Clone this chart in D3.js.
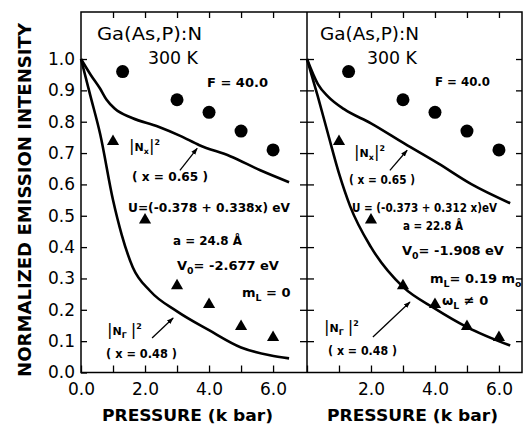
<!DOCTYPE html>
<html>
<head>
<meta charset="utf-8">
<script src="https://cdn.jsdelivr.net/npm/d3@7"></script>
<style>
  body { margin: 0; background: #fff; }
  text { font-family: "DejaVu Sans", sans-serif; fill: #000; }
</style>
</head>
<body>
<script>
// measured points (same in both panels)
const pressureF = [1.3, 3.0, 4.0, 5.0, 6.0];
const intensityF = [0.96, 0.87, 0.83, 0.77, 0.71];
const pressureTri = [1.0, 2.0, 3.0, 4.0, 5.0, 6.0];
const intensityTri = [0.74, 0.49, 0.28, 0.22, 0.15, 0.115];

// calculated curves, left panel (mL = 0)
const leftNxP = [0, 0.3, 0.6, 0.8, 1.05, 1.6, 2.4, 3.1, 3.7, 4.66, 5.6, 6.5];
const leftNxI = [1.0, 0.95, 0.905, 0.87, 0.842, 0.812, 0.785, 0.755, 0.725, 0.69, 0.645, 0.607];
const leftNgP = [0, 0.3, 0.6, 1.0, 1.27, 1.62, 2.16, 3.0, 4.0, 5.0, 5.9, 6.5];
const leftNgI = [1.0, 0.88, 0.76, 0.55, 0.44, 0.335, 0.26, 0.195, 0.135, 0.08, 0.055, 0.045];

// calculated curves, right panel (mL = 0.19 m0)
const rightNxP = [0, 0.34, 0.66, 1.16, 2.0, 3.05, 4.1, 5.15, 6.35];
const rightNxI = [1.0, 0.92, 0.88, 0.84, 0.795, 0.73, 0.667, 0.6, 0.54];
const rightNgP = [0, 0.34, 0.66, 1.0, 1.35, 2.0, 3.0, 4.0, 5.0, 6.35];
const rightNgI = [1.0, 0.88, 0.76, 0.635, 0.53, 0.4, 0.273, 0.204, 0.145, 0.086];

// ticks
const xTicks = [0, 1, 2, 3, 4, 5, 6];
const xLabelsLeft = [0, 2, 4, 6];
const xLabelsRight = [2, 4, 6];
const yTicks = [0, 0.1, 0.2, 0.3, 0.4, 0.5, 0.6, 0.7, 0.8, 0.9, 1.0];

// arrows [tailP, tailI, headP, headI]
const arrowsLeft = [[3.09, 0.645, 3.63, 0.715], [2.22, 0.11, 2.88, 0.174]];
const arrowsRight = [[2.59, 0.645, 3.13, 0.709], [2.06, 0.113, 3.22, 0.225]];

var W = 523, H = 426;
var top_ = 12, bottom = 372.5, left = 81, mid = 307, right = 522;

var svg = d3.select("body").append("svg")
  .attr("width", W).attr("height", H);

var y = d3.scaleLinear().domain([0, 1.15]).range([bottom, top_]);
var xL = d3.scaleLinear().domain([0, 7.06]).range([left, mid]);
var xR = d3.scaleLinear().domain([0, 6.72]).range([mid, right]);

svg.append("defs").append("marker")
  .attr("id", "ah").attr("viewBox", "0 0 10 10")
  .attr("refX", 9).attr("refY", 5)
  .attr("markerWidth", 7).attr("markerHeight", 7)
  .attr("markerUnits", "userSpaceOnUse")
  .attr("orient", "auto")
  .append("path").attr("d", "M0,1.5 L10,5 L0,8.5 z").attr("fill", "#000");

function axisStyle(g) {
  g.select(".domain").remove();
  g.selectAll(".tick line").attr("stroke", "#000").attr("stroke-width", 1.3);
  g.selectAll(".tick text").attr("font-family", "DejaVu Sans").attr("font-size", 17).attr("fill", "#000");
}

function panel(x, labels, curves, arrows) {
  // ticks
  svg.append("g").attr("transform", "translate(0," + bottom + ")")
    .call(d3.axisBottom(x).tickValues(xTicks).tickSizeInner(-7).tickSizeOuter(0).tickPadding(10)
      .tickFormat(d => labels.indexOf(d) >= 0 ? d.toFixed(1) : ""))
    .call(axisStyle);
  svg.append("g").attr("transform", "translate(0," + top_ + ")")
    .call(d3.axisTop(x).tickValues(xTicks.slice(1)).tickSizeInner(-6).tickSizeOuter(0).tickFormat(""))
    .call(axisStyle);

  var line = d3.line()
    .x(d => x(d[0])).y(d => y(d[1]))
    .curve(d3.curveMonotoneX);

  curves.forEach(function(c) {
    svg.append("path")
      .datum(d3.zip(c[0], c[1]))
      .attr("fill", "none").attr("stroke", "#000").attr("stroke-width", 2.6)
      .attr("d", line);
  });

  svg.selectAll(null).data(d3.zip(pressureF, intensityF)).enter()
    .append("circle")
    .attr("cx", d => x(d[0])).attr("cy", d => y(d[1])).attr("r", 6.5)
    .attr("fill", "#000");

  svg.selectAll(null).data(d3.zip(pressureTri, intensityTri)).enter()
    .append("path")
    .attr("d", d3.symbol().type(d3.symbolTriangle).size(64))
    .attr("transform", d => "translate(" + x(d[0]) + "," + (y(d[1]) + 1) + ")")
    .attr("fill", "#000");

  arrows.forEach(function(a) {
    svg.append("line")
      .attr("x1", x(a[0])).attr("y1", y(a[1]))
      .attr("x2", x(a[2])).attr("y2", y(a[3]))
      .attr("stroke", "#000").attr("stroke-width", 1.3)
      .attr("marker-end", "url(#ah)");
  });
}

panel(xL, xLabelsLeft, [[leftNxP, leftNxI], [leftNgP, leftNgI]], arrowsLeft);
panel(xR, xLabelsRight, [[rightNxP, rightNxI], [rightNgP, rightNgI]], arrowsRight);

// y ticks: labelled on the left, crossing at the divider, inward on the right
svg.append("g").attr("transform", "translate(" + left + ",0)")
  .call(d3.axisLeft(y).tickValues(yTicks).tickSizeInner(-6).tickSizeOuter(0).tickPadding(6)
    .tickFormat(d3.format(".1f")))
  .call(axisStyle);
svg.append("g").attr("transform", "translate(" + mid + ",0)")
  .call(d3.axisLeft(y).tickValues(yTicks.slice(1)).tickSizeInner(7).tickSizeOuter(0).tickFormat(""))
  .call(axisStyle);
svg.append("g").attr("transform", "translate(" + mid + ",0)")
  .call(d3.axisRight(y).tickValues(yTicks.slice(1)).tickSizeInner(7).tickSizeOuter(0).tickFormat(""))
  .call(axisStyle);
svg.append("g").attr("transform", "translate(" + right + ",0)")
  .call(d3.axisLeft(y).tickValues(yTicks.slice(1)).tickSizeInner(6).tickSizeOuter(0).tickFormat(""))
  .call(axisStyle);

// frames
svg.append("rect").attr("x", left).attr("y", top_).attr("width", right - left).attr("height", bottom - top_)
  .attr("fill", "none").attr("stroke", "#000").attr("stroke-width", 1.5);
svg.append("line").attr("x1", mid).attr("x2", mid).attr("y1", top_).attr("y2", bottom)
  .attr("stroke", "#000").attr("stroke-width", 1.5);

// text helpers
function txt(x0, y0, s, size, weight, len) {
  var t = svg.append("text").attr("x", x0).attr("y", y0)
    .attr("font-size", size).attr("font-weight", weight || "normal").text(s);
  if (len) t.attr("textLength", len).attr("lengthAdjust", "spacingAndGlyphs");
  return t;
}
// parts: strings or {t, sub|sup|big}
function rich(x0, y0, parts, size) {
  var t = svg.append("text").attr("x", x0).attr("y", y0)
    .attr("font-size", size).attr("font-weight", "bold");
  var off = 0;
  parts.forEach(function(p) {
    var s = typeof p === "string" ? {t: p} : p;
    var target = s.sub ? size * 0.3 : s.sup ? -size * 0.55 : 0;
    var fs = s.sub || s.sup ? size * 0.72 : s.big ? size * 1.5 : size;
    t.append("tspan").attr("dy", target - off).attr("font-size", fs)
      .attr("font-weight", s.big ? "normal" : "bold").text(s.t);
    off = target;
  });
  return t;
}

// left panel labels
txt(97, 40, "Ga(As,P):N", 17, "normal", 105);
txt(148, 64, "300 K", 17, "normal", 50);
txt(207, 87, "F = 40.0", 13, "bold", 61);
rich(129, 151, [{t: "|", big: 1}, "N", {t: "x", sub: 1}, {t: "|", big: 1}, {t: "2", sup: 1}], 11);
txt(132, 181, "( x = 0.65 )", 12, "bold", 76);
txt(128, 212, "U=(-0.378 + 0.338x) eV", 12, "bold", 162);
txt(173, 245, "a = 24.8 Å", 13, "bold", 69);
rich(177, 270, ["V", {t: "0", sub: 1}, "= -2.677 eV"], 13);
rich(242, 297, ["m", {t: "L", sub: 1}, " = 0"], 13);
rich(107, 335, [{t: "|", big: 1}, "N", {t: "Γ", sub: 1}, " ", {t: "|", big: 1}, {t: "2", sup: 1}], 11);
txt(106, 358, "( x = 0.48 )", 12, "bold", 71);

// right panel labels
txt(320, 40, "Ga(As,P):N", 17, "normal", 99);
txt(367, 64, "300 K", 17, "normal", 50);
txt(435, 86, "F = 40.0", 13, "bold", 55);
rich(354, 157, [{t: "|", big: 1}, "N", {t: "x", sub: 1}, {t: "|", big: 1}, {t: "2", sup: 1}], 11);
txt(349, 184, "( x = 0.65 )", 12, "bold", 66);
txt(352, 212, "U = (-0.373 + 0.312 x)eV", 11.5, "bold", 145);
txt(403, 230, "a = 22.8 Å", 13, "bold", 60);
rich(402, 255, ["V", {t: "0", sub: 1}, "= -1.908 eV"], 13);
rich(430, 283, ["m", {t: "L", sub: 1}, "= 0.19 m", {t: "o", sub: 1}], 13);
rich(442, 305, ["ω", {t: "L", sub: 1}, " ≠ 0"], 13);
rich(324, 332, [{t: "|", big: 1}, "N", {t: "Γ", sub: 1}, " ", {t: "|", big: 1}, {t: "2", sup: 1}], 11);
txt(328, 355, "( x = 0.48 )", 12, "bold", 69);

// axis titles
txt(102, 421, "PRESSURE  (k bar)", 16, "bold", 171);
txt(327, 421, "PRESSURE  (k bar)", 16, "bold", 171);
svg.append("text")
  .attr("transform", "translate(31,377) rotate(-90)")
  .attr("font-size", 17).attr("font-weight", "bold")
  .attr("textLength", 354).attr("lengthAdjust", "spacingAndGlyphs")
  .text("NORMALIZED  EMISSION  INTENSITY");
</script>
</body>
</html>
